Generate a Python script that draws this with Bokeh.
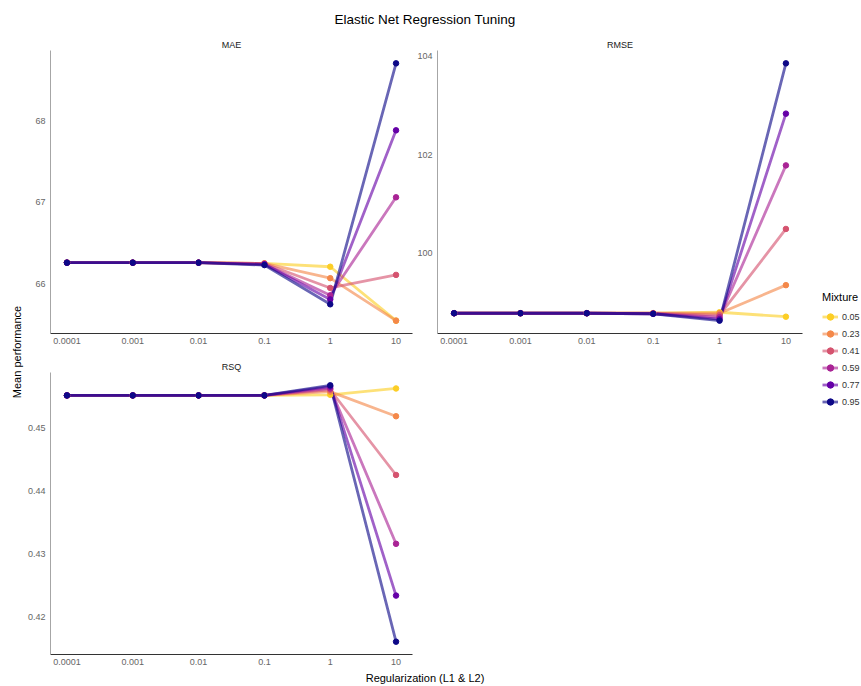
import numpy as np
from bokeh.plotting import figure
from bokeh.models import (Range1d, FixedTicker, Legend, LegendItem, Spacer,
                          CustomJSTickFormatter)
from bokeh.layouts import row, column
from bokeh.embed import file_html
from bokeh.resources import INLINE

# ---------------- data ----------------
penalty = [0.0001, 0.001, 0.01, 0.1, 1, 10]
penalty_labels = ["0.0001", "0.001", "0.01", "0.1", "1", "10"]
mixture = [0.05, 0.23, 0.41, 0.59, 0.77, 0.95]
mixture_labels = ["0.05", "0.23", "0.41", "0.59", "0.77", "0.95"]
colors = ["#FCCE25", "#F48849", "#D5536F", "#A92395", "#6500A7", "#0D0887"]

# one list per mixture level, values at each penalty
mae_values = [
    [66.26, 66.26, 66.26, 66.25, 66.21, 65.55],
    [66.26, 66.26, 66.26, 66.25, 66.07, 65.55],
    [66.26, 66.26, 66.26, 66.25, 65.95, 66.11],
    [66.26, 66.26, 66.26, 66.24, 65.86, 67.06],
    [66.26, 66.26, 66.26, 66.24, 65.81, 67.88],
    [66.26, 66.26, 66.26, 66.23, 65.75, 68.70],
]
rmse_values = [
    [98.78, 98.78, 98.78, 98.78, 98.80, 98.71],
    [98.78, 98.78, 98.78, 98.78, 98.78, 99.35],
    [98.78, 98.78, 98.78, 98.78, 98.74, 100.49],
    [98.78, 98.78, 98.78, 98.77, 98.70, 101.78],
    [98.78, 98.78, 98.78, 98.77, 98.66, 102.83],
    [98.78, 98.78, 98.78, 98.77, 98.63, 103.85],
]
rsq_values = [
    [0.4551, 0.4551, 0.4551, 0.4551, 0.4552, 0.4562],
    [0.4551, 0.4551, 0.4551, 0.4551, 0.4557, 0.4518],
    [0.4551, 0.4551, 0.4551, 0.4551, 0.4560, 0.4425],
    [0.4551, 0.4551, 0.4551, 0.4551, 0.4562, 0.4316],
    [0.4551, 0.4551, 0.4551, 0.4551, 0.4565, 0.4234],
    [0.4551, 0.4551, 0.4551, 0.4551, 0.4567, 0.4161],
]
mae_ticks = [66, 67, 68]
rmse_ticks = [100, 102, 104]
rsq_ticks = [0.42, 0.43, 0.44, 0.45]

FONT = "Liberation Sans"


def padded(lo, hi, frac=0.05):
    span = hi - lo
    return lo - frac * span, hi + frac * span


lx = np.log10(penalty)
xlo, xhi = padded(lx.min(), lx.max())
x_fmt = CustomJSTickFormatter(args=dict(pvals=penalty, plabels=penalty_labels), code="""
    for (let i = 0; i < pvals.length; i++) {
        if (Math.abs(Math.log10(pvals[i]) - Math.log10(tick)) < 1e-6) return plabels[i];
    }
    return '';
""")


def panel(name, values, yticks, width, height, mb):
    allv = np.array(values)
    ylo, yhi = padded(allv.min(), allv.max())
    p = figure(width=width, height=height, x_axis_type="log",
               x_range=Range1d(10 ** xlo, 10 ** xhi), y_range=Range1d(ylo, yhi),
               toolbar_location=None, output_backend="svg", title=name,
               min_border_left=mb[0], min_border_right=mb[1],
               min_border_top=mb[2], min_border_bottom=mb[3])
    p.title.align = "center"
    p.title.text_font = FONT
    p.title.text_font_size = "9px"
    p.title.text_font_style = "normal"
    p.title.text_color = "#1A1A1A"
    p.title.standoff = 2
    p.outline_line_color = None
    p.grid.visible = False
    p.xaxis.ticker = FixedTicker(ticks=penalty)
    p.xaxis.formatter = x_fmt
    p.yaxis.ticker = FixedTicker(ticks=yticks)
    p.axis.major_tick_line_color = None
    p.axis.minor_tick_line_color = None
    p.axis.major_tick_out = 0
    p.axis.major_tick_in = 0
    p.axis.minor_tick_out = 0
    p.axis.major_label_text_font = FONT
    p.axis.major_label_text_font_size = "9px"
    p.axis.major_label_text_color = "#666666"
    p.xaxis.major_label_standoff = 4
    p.yaxis.major_label_standoff = 5
    p.xaxis.axis_line_color = "#333333"
    p.yaxis.axis_line_color = "#A6A6A6"
    for vals, c in zip(values, colors):
        p.line(penalty, vals, line_color=c, line_width=2.8, line_alpha=0.62)
    for vals, c in zip(values, colors):
        p.scatter(penalty, vals, color=c, size=5.5)
    return p


pA = panel("MAE", mae_values, mae_ticks, 390, 322, (23, 2, 13, 25))
pC = panel("RSQ", rsq_values, rsq_ticks, 390, 312, (23, 2, 14, 16))
pB = panel("RMSE", rmse_values, rmse_ticks, 391, 322, (23, 3, 13, 25))

# ---- title figure ----
pT = figure(width=861, height=36, x_axis_location=None, y_axis_location=None,
            toolbar_location=None, output_backend="svg",
            title="Elastic Net Regression Tuning",
            min_border_left=47, min_border_right=59, min_border_top=0, min_border_bottom=0)
pT.title.align = "center"
pT.title.text_font = FONT
pT.title.text_font_size = "13.5px"
pT.title.text_font_style = "normal"
pT.title.text_color = "#000000"
pT.title.standoff = 18
pT.outline_line_color = None
pT.grid.visible = False

# ---- x label figure ----
pX = figure(width=861, height=16, x_axis_location=None, y_axis_location=None,
            toolbar_location=None, output_backend="svg",
            title="Regularization (L1 & L2)", title_location="below",
            min_border_left=47, min_border_right=59, min_border_top=0, min_border_bottom=15)
pX.title.align = "center"
pX.title.vertical_align = "top"
pX.title.text_font = FONT
pX.title.text_font_size = "11px"
pX.title.text_font_style = "normal"
pX.title.text_color = "#000000"
pX.title.standoff = 0
pX.outline_line_color = None
pX.grid.visible = False

# ---- y label figure ----
pL = figure(width=24, height=634, x_axis_location=None, y_axis_location=None,
            toolbar_location=None, output_backend="svg",
            title="Mean performance", title_location="left",
            min_border_left=23, min_border_right=0, min_border_top=13, min_border_bottom=16)
pL.title.align = "center"
pL.title.text_font = FONT
pL.title.text_font_size = "11px"
pL.title.text_font_style = "normal"
pL.title.text_color = "#000000"
pL.title.standoff = 2
pL.outline_line_color = None
pL.grid.visible = False

# ---- legend figure ----
pG = figure(width=56, height=634, x_axis_location=None, y_axis_location=None,
            x_range=Range1d(0, 1), y_range=Range1d(0, 1),
            toolbar_location=None, output_backend="svg",
            min_border_left=17, min_border_right=0, min_border_top=255, min_border_bottom=0)
pG.outline_line_color = None
pG.grid.visible = False
items = []
for lab, c in zip(mixture_labels, colors):
    # legend-only renderers, placed outside the visible range
    lr = pG.line(x=[5, 6], y=[5, 5], line_color=c, line_width=2.8, line_alpha=0.62)
    sr = pG.scatter(x=[5], y=[5], color=c, size=5.5)
    items.append(LegendItem(label=lab, renderers=[lr, sr]))
leg = Legend(items=items, title="Mixture", location="top_left")
leg.margin = 0
leg.padding = 0
leg.border_line_color = None
leg.background_fill_alpha = 0
leg.title_text_font = FONT
leg.title_text_font_size = "11px"
leg.title_text_font_style = "normal"
leg.title_text_color = "#000000"
leg.title_standoff = 5
leg.label_text_font = FONT
leg.label_text_font_size = "9px"
leg.label_text_color = "#333333"
leg.glyph_width = 16
leg.glyph_height = 17
leg.label_height = 17
leg.label_standoff = 4
leg.spacing = 0
pG.add_layout(leg)

middle = row(pL, column(pA, pC), row(column(pB, Spacer(width=391, height=312)), pG))
page = column(pT, middle, pX)

open("out.html", "w").write(file_html(page, INLINE))
